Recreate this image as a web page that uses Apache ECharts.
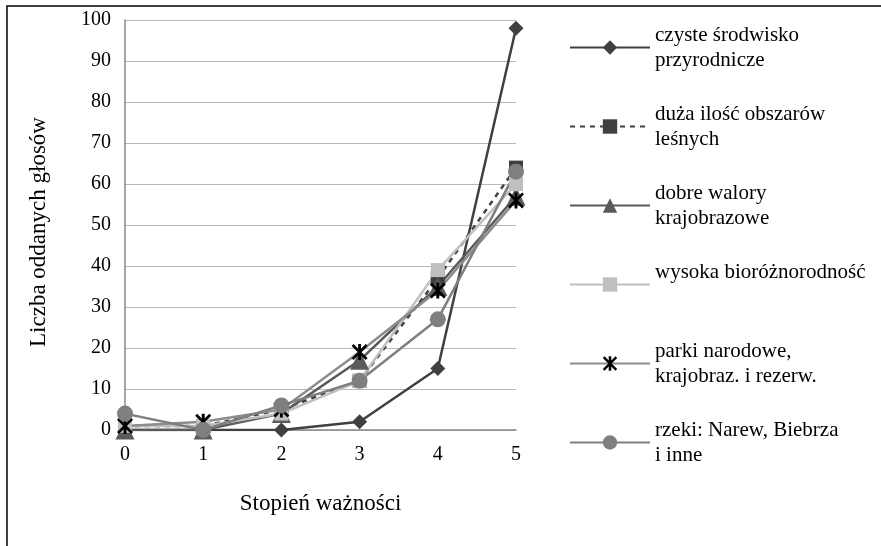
<!DOCTYPE html>
<html><head><meta charset="utf-8">
<script src="https://cdn.jsdelivr.net/npm/echarts@6/dist/echarts.min.js"></script>
<style>html,body{margin:0;padding:0;background:#fff}#c{width:881px;height:546px}</style>
</head><body><div id="c"></div>
<script>
var categories = ['0', '1', '2', '3', '4', '5'];
var seriesNames = ['czyste środwisko przyrodnicze', 'duża ilość obszarów leśnych', 'dobre walory krajobrazowe', 'wysoka bioróżnorodność', 'parki narodowe, krajobraz. i rezerw.', 'rzeki: Narew, Biebrza i inne'];
var legendLabels = ['czyste środwisko\nprzyrodnicze', 'duża ilość obszarów\nleśnych', 'dobre walory\nkrajobrazowe', 'wysoka bioróżnorodność\n ', 'parki narodowe,\nkrajobraz. i rezerw.', 'rzeki: Narew, Biebrza\ni inne'];
var czyste = [0, 0, 0, 2, 15, 98];
var duza = [1, 1, 5, 12, 37, 64];
var dobre = [0, 0, 4, 17, 35, 57];
var wysoka = [1, 1, 4, 12, 39, 60];
var parki = [1, 2, 5, 19, 34, 56];
var rzeki = [4, 0, 6, 12, 27, 63];
var yTicks = [0, 10, 20, 30, 40, 50, 60, 70, 80, 90, 100];

var FONT = 'Liberation Serif';
var star = 'path://M4.1 0 L5.9 0 L5.9 10 L4.1 10 Z M0 1.2 L1.2 0 L10 8.8 L8.8 10 Z M1.2 10 L0 8.8 L8.8 0 L10 1.2 Z';
var values = [czyste, duza, dobre, wysoka, parki, rzeki];
var styles = [
  {line: '#404040', mark: '#404040', symbol: 'diamond', size: 15, type: 'solid'},
  {line: '#404040', mark: '#404040', symbol: 'rect', size: 14, type: [5, 5]},
  {line: '#5a5a5a', mark: '#5a5a5a', symbol: 'triangle', size: 19, type: 'solid'},
  {line: '#bfbfbf', mark: '#bfbfbf', symbol: 'rect', size: 14, type: 'solid'},
  {line: '#8c8c8c', mark: '#000000', symbol: star, size: 16, type: 'solid'},
  {line: '#7f7f7f', mark: '#7f7f7f', symbol: 'circle', size: 16, type: 'solid'}
];
var series = seriesNames.map(function (n, i) {
  var s = styles[i];
  return {
    name: n, type: 'line', data: values[i], symbol: s.symbol, symbolSize: s.size,
    showAllSymbol: true,
    lineStyle: {color: s.line, width: 2.5, type: s.type},
    itemStyle: {color: s.mark, borderWidth: 0},
    emphasis: {disabled: true}, animation: false
  };
});

var chart = echarts.init(document.getElementById('c'), null, {renderer: 'canvas'});
chart.setOption({
  animation: false,
  backgroundColor: '#fff',
  graphic: [{type: 'rect', shape: {x: 7, y: 6, width: 900, height: 600}, style: {fill: 'none', stroke: '#000', lineWidth: 1.5}, silent: true}],
  grid: {left: 125, right: 365, top: 20, bottom: 116, containLabel: false},
  legend: {
    orient: 'vertical', left: 564, top: 5, itemWidth: 80, itemHeight: 18, itemGap: 4,
    data: seriesNames,
    formatter: function (n) { return legendLabels[seriesNames.indexOf(n)]; },
    textStyle: {fontFamily: FONT, fontSize: 21, color: '#000', lineHeight: 25, padding: [25, 0, 0, 0]},
    selectedMode: false
  },
  xAxis: {
    type: 'category', data: categories, boundaryGap: false,
    name: 'Stopień ważności', nameLocation: 'middle', nameGap: 62,
    nameTextStyle: {fontFamily: FONT, fontSize: 23, color: '#000'},
    axisLine: {lineStyle: {color: '#888', width: 1.5}},
    axisTick: {show: false},
    axisLabel: {fontFamily: FONT, fontSize: 20, color: '#000', margin: 15},
    splitLine: {show: false}
  },
  yAxis: {
    type: 'value', min: 0, max: 100, interval: 10,
    name: 'Liczba oddanych głosów', nameLocation: 'middle', nameGap: 75,
    nameTextStyle: {fontFamily: FONT, fontSize: 23, color: '#000', padding: [0, 14, 0, 0]},
    axisLine: {show: true, lineStyle: {color: '#888', width: 1.5}},
    axisTick: {show: false},
    axisLabel: {fontFamily: FONT, fontSize: 20, color: '#000', margin: 14,
      formatter: function (v) { return yTicks.indexOf(v) >= 0 ? String(v) : ''; }},
    splitLine: {lineStyle: {color: '#b8b8b8', width: 1.2}}
  },
  series: series
});
</script></body></html>
